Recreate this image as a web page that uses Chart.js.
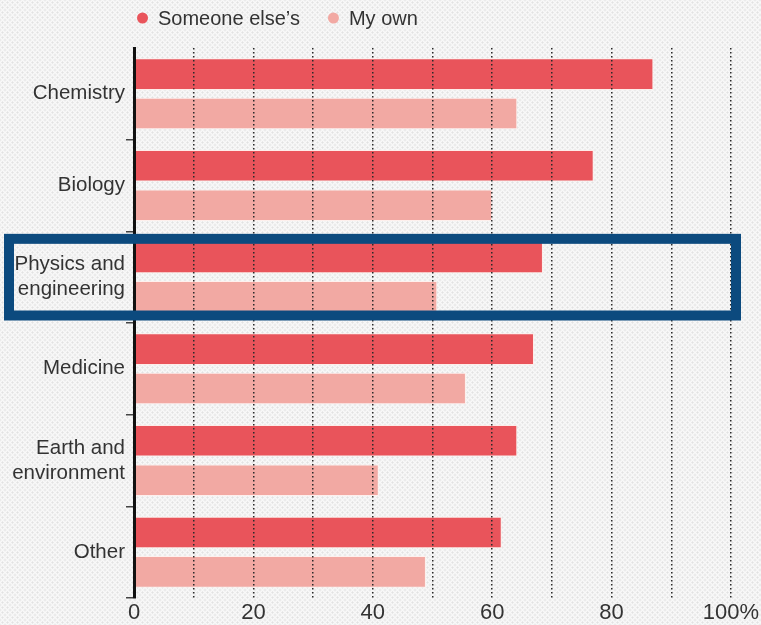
<!DOCTYPE html>
<html>
<head>
<meta charset="utf-8">
<script src="https://cdn.jsdelivr.net/npm/chart.js@4.4.1/dist/chart.umd.min.js"></script>
<style>
  html, body { margin: 0; padding: 0; }
  body {
    width: 761px; height: 625px; overflow: hidden;
    background-color: #f8f8f8;
    background-image:
      radial-gradient(#e2e2e2 0.9px, transparent 1.2px),
      radial-gradient(#e2e2e2 0.9px, transparent 1.2px);
    background-size: 5px 5px;
    background-position: 0 0, 2.5px 2.5px;
  }
  #wrap { position: relative; width: 761px; height: 625px; }
</style>
</head>
<body>
<div id="wrap"><canvas id="c" width="761" height="625"></canvas></div>
<script>
const categories = ['Chemistry', 'Biology', ['Physics and', 'engineering'], 'Medicine', ['Earth and', 'environment'], 'Other'];
const someoneElses = [87, 77, 68.5, 67, 64.2, 61.6];
const myOwn = [64.2, 60, 50.8, 55.6, 41, 48.9];
const seriesNames = ['Someone else\u2019s', 'My own'];
const xTickValues = [0, 20, 40, 60, 80, 100];
const highlightedCategory = 2;

const FONT = '"Liberation Sans", Arial, sans-serif';
const TEXT = '#333333';

const legendPlugin = {
  id: 'customLegend',
  afterDraw(chart) {
    const ctx = chart.ctx;
    ctx.save();
    ctx.font = '20px ' + FONT;
    ctx.textBaseline = 'middle';
    ctx.textAlign = 'left';
    let x = chart.chartArea.left + 3;
    const y = 18;
    chart.data.datasets.forEach(ds => {
      ctx.beginPath();
      ctx.fillStyle = ds.backgroundColor;
      ctx.arc(x + 5.5, y, 5.5, 0, Math.PI * 2);
      ctx.fill();
      const tx = x + 21;
      ctx.fillStyle = TEXT;
      ctx.fillText(ds.label, tx, y + 1);
      x = tx + ctx.measureText(ds.label).width + 28;
    });
    ctx.restore();
  }
};

const highlightPlugin = {
  id: 'highlight',
  afterDraw(chart) {
    const ys = chart.scales.y;
    const ctx = chart.ctx;
    const cat = (ys.bottom - ys.top) / categories.length;
    const cy = ys.getPixelForValue(highlightedCategory);
    const half = cat / 2 - 7.5;
    ctx.save();
    ctx.strokeStyle = '#0c4a7e';
    ctx.lineWidth = 10;
    ctx.strokeRect(9, cy - half, chart.chartArea.right + 5 - 9, half * 2);
    ctx.restore();
  }
};

new Chart(document.getElementById('c'), {
  type: 'bar',
  data: {
    labels: categories,
    datasets: [
      { label: seriesNames[0], data: someoneElses, backgroundColor: '#e9545b', borderColor: 'rgba(255,236,232,0.9)', borderWidth: 1, borderSkipped: 'start' },
      { label: seriesNames[1], data: myOwn, backgroundColor: '#f2a9a3', borderColor: 'rgba(255,240,236,0.9)', borderWidth: 1, borderSkipped: 'start' }
    ]
  },
  options: {
    indexAxis: 'y',
    responsive: false,
    animation: false,
    devicePixelRatio: 1,
    layout: { padding: { left: 0, right: 30, top: 48, bottom: 0 } },
    datasets: { bar: { categoryPercentage: 0.86, barPercentage: 0.8 } },
    plugins: { legend: { display: false }, tooltip: { enabled: false } },
    scales: {
      x: {
        min: 0, max: 100,
        afterBuildTicks(scale) {
          const t = [];
          for (let v = 0; v <= 100; v += 10) t.push({ value: v });
          scale.ticks = t;
        },
        afterFit(scale) {
          scale.height = 27;
          scale.paddingLeft = 0;
          scale.paddingRight = 0;
        },
        ticks: {
          autoSkip: false, maxRotation: 0, padding: 4,
          color: TEXT, font: { family: FONT, size: 22, lineHeight: 1.0 },
          callback(v) { return xTickValues.includes(v) ? (v === 100 ? '100%' : String(v)) : ''; }
        },
        grid: {
          z: 1, drawTicks: false, lineWidth: 1.5,
          color(ctx) { return ctx.tick && ctx.tick.value === 0 ? 'rgba(0,0,0,0)' : '#2a2a2a'; }
        },
        border: { display: false, dash: [1.5, 2.5] }
      },
      y: {
        afterFit(scale) { scale.width = 134; },
        ticks: { color: TEXT, padding: 1, font: { family: FONT, size: 20.5, lineHeight: 1.22 } },
        grid: {
          drawOnChartArea: false, tickLength: 8, lineWidth: 1.5,
          color(ctx) { return (ctx.index === 0 || ctx.index === categories.length) ? 'rgba(0,0,0,0)' : '#444'; }
        },
        border: { display: true, color: '#111', width: 3, z: 1 }
      }
    }
  },
  plugins: [legendPlugin, highlightPlugin]
});
</script>
</body>
</html>
